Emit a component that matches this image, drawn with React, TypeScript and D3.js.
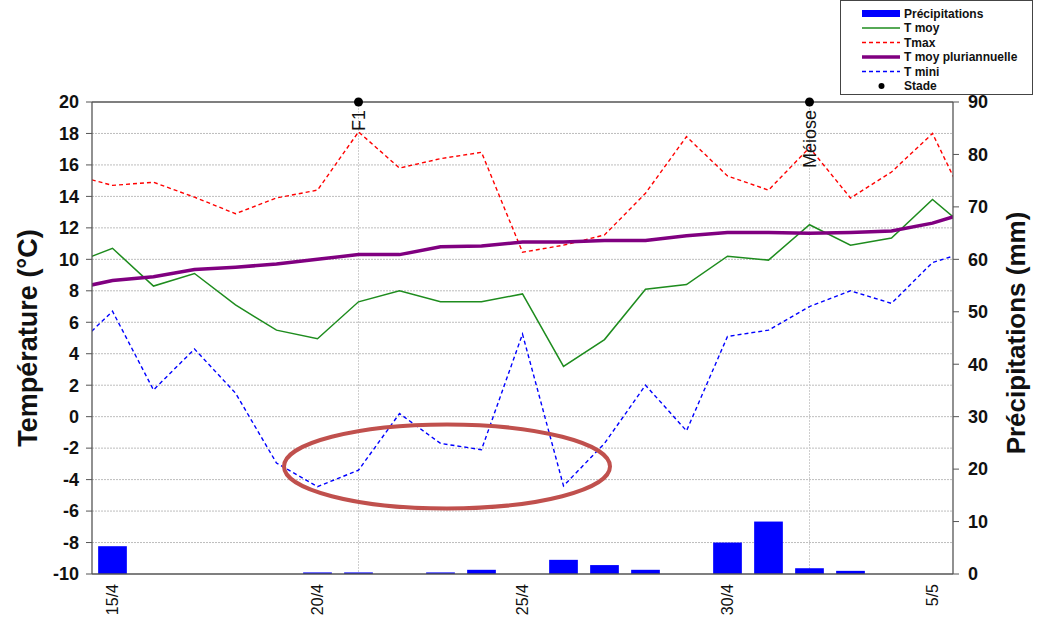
import React from "react";
import * as d3 from "d3";

// 14/4 .. 6/5 (first and last are outside the visible window, clipped)
const lineDays = ["14/4","15/4","16/4","17/4","18/4","19/4","20/4","21/4","22/4","23/4","24/4","25/4","26/4","27/4","28/4","29/4","30/4","1/5","2/5","3/5","4/5","5/5","6/5"];
const days = ["15/4","16/4","17/4","18/4","19/4","20/4","21/4","22/4","23/4","24/4","25/4","26/4","27/4","28/4","29/4","30/4","1/5","2/5","3/5","4/5","5/5"];
const tickDays = ["15/4","20/4","25/4","30/4","5/5"];
const tMoy = [9.7,10.7,8.3,9.1,7.1,5.5,4.95,7.3,8.0,7.3,7.3,7.8,3.2,4.9,8.1,8.4,10.2,9.95,12.2,10.9,11.35,13.8,11.6];
const tMax = [15.4,14.7,14.9,13.95,12.9,13.9,14.4,18.1,15.8,16.4,16.8,10.45,10.9,11.55,14.2,17.8,15.3,14.4,17.1,13.9,15.55,18.0,12.6];
const tMin = [4.2,6.7,1.7,4.3,1.5,-2.95,-4.45,-3.4,0.2,-1.7,-2.1,5.25,-4.4,-1.7,2.0,-0.9,5.1,5.5,7.0,8.0,7.2,9.8,10.6];
const tPluri = [8.1,8.65,8.9,9.35,9.5,9.7,10.0,10.3,10.3,10.8,10.85,11.1,11.1,11.2,11.2,11.5,11.7,11.7,11.65,11.7,11.8,12.3,13.1];
const precip = [5.3,0,0,0,0,0.3,0.3,0,0.3,0.8,0,2.7,1.7,0.8,0,6.0,10.0,1.1,0.6,0,0];
const stades = [{ day: "21/4", label: "F1" }, { day: "2/5", label: "Méiose" }];
const tempTicks = [-10,-8,-6,-4,-2,0,2,4,6,8,10,12,14,16,18,20];
const precTicks = [0,10,20,30,40,50,60,70,80,90];

const W = 1037, H = 632;
const L = 92, R = 953, T = 102, B = 574;
const FONT = "Arial, 'Liberation Sans', Helvetica, sans-serif";
const AX = "#555";

export default function App() {
  const step = (R - L) / days.length;
  const xc = (d: string) => L + step * (days.indexOf(d) + 0.5);
  const xi = d3.scaleLinear().domain([0, lineDays.length - 1]).range([L - step / 2, R + step / 2]);
  const yT = d3.scaleLinear().domain([-10, 20]).range([B, T]);
  const yP = d3.scaleLinear().domain([0, 90]).range([B, T]);
  const barW = step * 0.7;

  const mk = (vals: number[]) =>
    d3.line<number>().x((_, i) => xi(i)).y((v) => yT(v))(vals) || "";

  const legendRows = [
    { label: "Précipitations", kind: "bar" },
    { label: "T moy", kind: "line", color: "#1e8c1e", w: 1.5, dash: "" },
    { label: "Tmax", kind: "line", color: "#ff0000", w: 1.5, dash: "4,3" },
    { label: "T moy pluriannuelle", kind: "line", color: "#800080", w: 3.5, dash: "" },
    { label: "T mini", kind: "line", color: "#0000ff", w: 1.5, dash: "4,3" },
    { label: "Stade", kind: "dot" },
  ];

  return (
    <svg width={W} height={H} style={{ position: "absolute", left: 0, top: 0, display: "block", background: "#fff" }} fontFamily={FONT}>
      <defs>
        <clipPath id="plot"><rect x={L} y={T - 2} width={R - L} height={B - T + 4} /></clipPath>
      </defs>
      {tempTicks.filter((t) => t !== -10 && t !== 20).map((t) => (
        <line key={t} x1={L} x2={R} y1={yT(t)} y2={yT(t)} stroke="#bdbdbd" strokeWidth={1} strokeDasharray="2,1" />
      ))}
      {stades.map((s) => (
        <line key={s.day} x1={xc(s.day)} x2={xc(s.day)} y1={T} y2={B} stroke="#cfcfcf" strokeWidth={1} strokeDasharray="2,1" />
      ))}
      {precip.map((v, i) => v > 0 ? (
        <rect key={i} x={xc(days[i]) - barW / 2} y={yP(v)} width={barW} height={B - yP(v)} fill="#0000ff" />
      ) : null)}
      <g clipPath="url(#plot)" fill="none">
        <path d={mk(tMax)} stroke="#ff0000" strokeWidth={1.4} strokeDasharray="4,3" />
        <path d={mk(tMoy)} stroke="#1e8c1e" strokeWidth={1.5} />
        <path d={mk(tPluri)} stroke="#800080" strokeWidth={3.5} />
        <path d={mk(tMin)} stroke="#0000ff" strokeWidth={1.4} strokeDasharray="4,3" />
      </g>
      <line x1={L} x2={R} y1={T} y2={T} stroke={AX} strokeWidth={1.3} />
      <line x1={L} x2={R} y1={B} y2={B} stroke={AX} strokeWidth={1.3} />
      <line x1={L} x2={L} y1={T} y2={B} stroke={AX} strokeWidth={1.3} />
      <line x1={R} x2={R} y1={T} y2={B} stroke={AX} strokeWidth={1.3} />
      {tempTicks.map((t) => (
        <g key={t}>
          <line x1={L - 6} x2={L} y1={yT(t)} y2={yT(t)} stroke={AX} strokeWidth={1} />
          <text x={79} y={yT(t)} dy="0.35em" textAnchor="end" fontSize={18} fontWeight="bold" fill="#111">{t}</text>
        </g>
      ))}
      {precTicks.map((t) => (
        <g key={t}>
          <line x1={R} x2={R + 6} y1={yP(t)} y2={yP(t)} stroke={AX} strokeWidth={1} />
          <text x={968} y={yP(t)} dy="0.35em" textAnchor="start" fontSize={18} fontWeight="bold" fill="#111">{t}</text>
        </g>
      ))}
      {tickDays.map((d) => (
        <text key={d} transform={`translate(${xc(d)},584) rotate(-90)`} dy="0.35em" textAnchor="end" fontSize={16} fill="#111">{d}</text>
      ))}
      <text transform={`translate(28,${(T + B) / 2}) rotate(-90)`} dy="0.35em" textAnchor="middle" fontSize={27} fontWeight="bold" fill="#111">Température (°C)</text>
      <text transform={`translate(1016,${(T + B) / 2 - 5}) rotate(-90)`} dy="0.35em" textAnchor="middle" fontSize={26} fontWeight="bold" fill="#111">Précipitations (mm)</text>
      {stades.map((s) => (
        <g key={s.label}>
          <circle cx={xc(s.day)} cy={yT(20)} r={4.5} fill="#000" />
          <text transform={`translate(${xc(s.day)},110) rotate(-90)`} dy="0.35em" textAnchor="end" fontSize={18} fill="#111">{s.label}</text>
        </g>
      ))}
      <ellipse cx={447} cy={466.5} rx={163} ry={42} fill="none" stroke="#c0504d" strokeWidth={4} />
      <rect x={840.5} y={0.5} width={192} height={94} fill="#fff" stroke="#444" strokeWidth={1} />
      {legendRows.map((r, i) => {
        const y = 13.5 + i * 14.5;
        return (
          <g key={r.label}>
            {r.kind === "bar" && <rect x={862} y={y - 3.5} width={38} height={7} fill="#0000ff" />}
            {r.kind === "line" && <line x1={862} x2={900} y1={y} y2={y} stroke={r.color} strokeWidth={r.w} strokeDasharray={r.dash} />}
            {r.kind === "dot" && <circle cx={881.5} cy={y} r={3} fill="#000" />}
            <text x={904} y={y} dy="0.35em" fontSize={12} fontWeight="bold" fill="#111">{r.label}</text>
          </g>
        );
      })}
    </svg>
  );
}
